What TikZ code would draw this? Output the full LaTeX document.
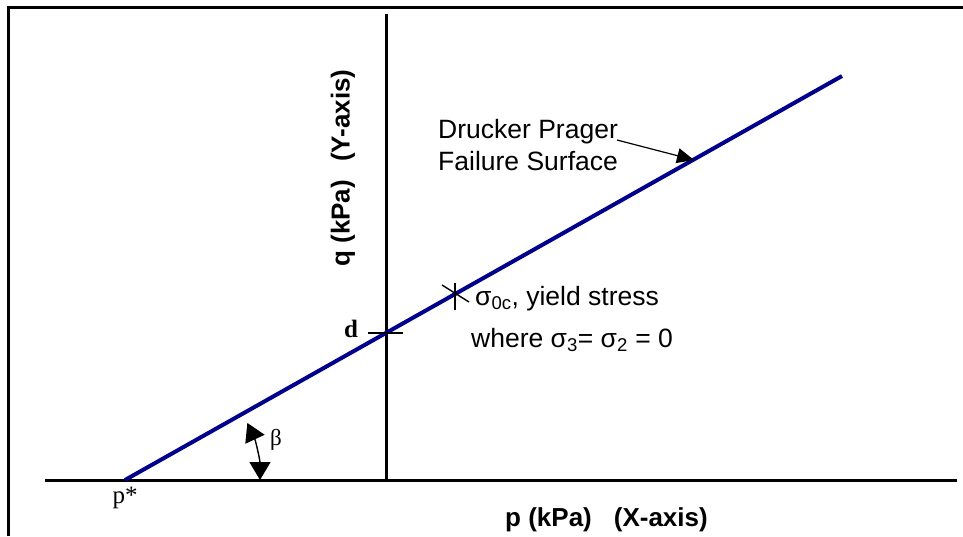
\documentclass[tikz,border=0pt]{standalone}
\usepackage{fontspec}
\setmainfont{Liberation Sans}
\newfontfamily\serifa{Liberation Serif}
\usetikzlibrary{arrows.meta}
\definecolor{navyline}{RGB}{0,0,140}
\begin{document}
\begin{tikzpicture}[x=1pt,y=-1pt,
  axis/.style={line width=3pt,black},
  failline/.style={line width=4pt,navyline},
  tick/.style={line width=1.4pt,black},
  lbl/.style={inner sep=0pt,font=\fontsize{26.5}{30}\selectfont},
  axlbl/.style={inner sep=0pt,font=\fontsize{26}{30}\selectfont\bfseries},
  serlbl/.style={inner sep=0pt,font=\serifa\fontsize{24}{28}\selectfont},
  bigtip/.style={-{Triangle[length=17pt,width=15pt]}},
  angtip/.style={{Triangle[length=18pt,width=21pt]}-{Triangle[length=18pt,width=21pt]}}]
\useasboundingbox (0,0) rectangle (963,536);
\fill[white] (0,0) rectangle (963,536);
% frame
\coordinate (fbl) at (8,536);
\coordinate (ftl) at (8,7);
\coordinate (ftr) at (963,7);
\draw[line width=3pt] (fbl) -- (ftl) -- (ftr);
% axes
\coordinate (xl) at (45,480);
\coordinate (xr) at (957,480);
\coordinate (yt) at (386,14);
\coordinate (yb) at (386,480);
\draw[axis] (xl) -- (xr);
\draw[axis] (yt) -- (yb);
% failure line
\coordinate (ps) at (125,480);
\coordinate (fe) at (842,76);
\draw[failline] (ps) -- (fe);
% d tick
\coordinate (dl) at (368,333);
\coordinate (dr) at (403,333);
\draw[tick] (dl) -- (dr);
\node[serlbl,font=\serifa\fontsize{25}{28}\selectfont\bfseries] (d) at (351,329) {d};
% sigma tick
\coordinate (sv1) at (455,283);
\coordinate (sv2) at (455,310);
\coordinate (sd1) at (442,285);
\coordinate (sd2) at (469,302);
\draw[tick] (sv1) -- (sv2);
\draw[tick] (sd1) -- (sd2);
\node[lbl,anchor=base west] (s1) at (475,305) {σ\textsubscript{0c}, yield stress};
\node[lbl,anchor=base west] (s2) at (471,347) {where σ\textsubscript{3}= σ\textsubscript{2} = 0};
% Drucker Prager label
\node[lbl,anchor=base west] (dp1) at (438,138) {Drucker Prager};
\node[lbl,anchor=base west] (dp2) at (438,170) {Failure Surface};
\coordinate (dpa) at (617,140);
\coordinate (dpb) at (694,160);
\draw[tick,line width=1.2pt,bigtip] (dpa) -- (dpb);
% angle
\draw[tick,angtip] ([shift={(0:135)}]ps) arc[start angle=0,end angle=-25,radius=135];
\node[serlbl,font=\serifa\fontsize{23}{26}\selectfont] (beta) at (276,440) {β};
\node[serlbl,font=\serifa\fontsize{25}{28}\selectfont] (pstar) at (125,498) {p*};
% axis labels
\node[axlbl,anchor=base west] (xlab) at (505,526) {p (kPa)\hspace{22pt}(X-axis)};
\node[axlbl,rotate=90] (ylab) at (343,168) {q (kPa)\hspace{18pt}(Y-axis)};
\end{tikzpicture}
\end{document}
